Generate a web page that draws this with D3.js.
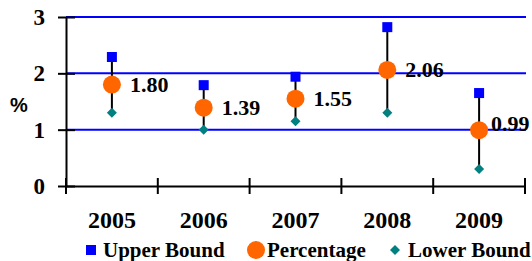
<!DOCTYPE html>
<html>
<head>
<meta charset="utf-8">
<script src="https://cdn.jsdelivr.net/npm/d3@7"></script>
<style>
  body { margin: 0; background: #fff; }
  svg { display: block; }
  .serif { font-family: "Liberation Serif", "Times New Roman", serif; font-weight: bold; }
</style>
</head>
<body>
<svg width="532" height="261"></svg>
<script>
var width = 532;
var height = 261;

var years = ['2005', '2006', '2007', '2008', '2009'];
var upper = [2.29, 1.79, 1.94, 2.82, 1.65];
var percentage = [1.80, 1.39, 1.55, 2.06, 0.99];
var lower = [1.30, 1.00, 1.15, 1.30, 0.30];
var yTicks = [0, 1, 2, 3];

var svg = d3.select('svg');

var x = d3.scaleBand()
   .domain(years)
   .range([66, 525]);

var y = d3.scaleLinear()
   .domain([0, 3])
   .range([186, 17]);

// grid lines
svg.append('g')
   .selectAll('line')
   .data(yTicks.slice(1))
   .enter()
   .append('line')
   .attr('x1', 66)
   .attr('x2', 526)
   .attr('y1', function(d) { return y(d); })
   .attr('y2', function(d) { return y(d); })
   .attr('stroke', '#0000ff')
   .attr('stroke-width', 2);

// y axis
var yAxis = svg.append('g')
   .attr('transform', 'translate(66,0)')
   .call(d3.axisLeft(y).tickValues(yTicks).tickFormat(d3.format('d')).tickSize(8).tickSizeOuter(0));

yAxis.select('.domain').attr('stroke', '#000').attr('stroke-width', 2);
yAxis.selectAll('.tick line').attr('stroke', '#000').attr('stroke-width', 2).attr('x2', 9).attr('x1', -8);
yAxis.selectAll('.tick text')
   .attr('class', 'serif')
   .attr('x', -21)
   .attr('dy', '0.33em')
   .style('font-size', '23px')
   .attr('fill', '#000');

// x axis
var xAxis = svg.append('g')
   .attr('transform', 'translate(0,186)')
   .call(d3.axisBottom(x).tickSize(0).tickSizeOuter(0));

xAxis.select('.domain').attr('stroke', '#000').attr('stroke-width', 2);
xAxis.selectAll('.tick text')
   .attr('class', 'serif')
   .attr('y', 34)
   .attr('dy', '0.33em')
   .style('font-size', '24px')
   .attr('fill', '#000');

svg.append('g')
   .selectAll('line')
   .data(years.concat(['end']))
   .enter()
   .append('line')
   .attr('x1', function(d, i) { return i < years.length ? x(d) : x.range()[1]; })
   .attr('x2', function(d, i) { return i < years.length ? x(d) : x.range()[1]; })
   .attr('y1', 178)
   .attr('y2', 194)
   .attr('stroke', '#000')
   .attr('stroke-width', 2);

svg.append('text')
   .attr('x', 10)
   .attr('y', 112)
   .style('font-family', '"Liberation Sans", Arial, sans-serif')
   .style('font-weight', 'bold')
   .style('font-size', '20px')
   .text('%');

var cx = function(i) { return x(years[i]) + x.bandwidth() / 2; };

// error bars
svg.append('g')
   .selectAll('line')
   .data(years)
   .enter()
   .append('line')
   .attr('x1', function(d, i) { return cx(i); })
   .attr('x2', function(d, i) { return cx(i); })
   .attr('y1', function(d, i) { return y(upper[i]); })
   .attr('y2', function(d, i) { return y(lower[i]); })
   .attr('stroke', '#000')
   .attr('stroke-width', 2);

// upper squares
svg.append('g')
   .selectAll('rect')
   .data(upper)
   .enter()
   .append('rect')
   .attr('x', function(d, i) { return cx(i) - 5; })
   .attr('y', function(d) { return y(d) - 5; })
   .attr('width', 10)
   .attr('height', 10)
   .attr('fill', '#0000ff');

// lower diamonds
svg.append('g')
   .selectAll('path')
   .data(lower)
   .enter()
   .append('path')
   .attr('d', 'M0,-5L5,0L0,5L-5,0Z')
   .attr('transform', function(d, i) { return 'translate(' + cx(i) + ',' + y(d) + ')'; })
   .attr('fill', '#008080');

// percentage circles
svg.append('g')
   .selectAll('circle')
   .data(percentage)
   .enter()
   .append('circle')
   .attr('cx', function(d, i) { return cx(i); })
   .attr('cy', function(d) { return y(d); })
   .attr('r', 9)
   .attr('fill', '#ff6600');

svg.append('g')
   .selectAll('text')
   .data(percentage)
   .enter()
   .append('text')
   .attr('class', 'serif')
   .attr('x', function(d, i) { return cx(i) + (i == years.length - 1 ? 12 : 18); })
   .attr('y', function(d, i) { return y(d) + (i == years.length - 1 ? -6 : 0); })
   .attr('dy', '0.33em')
   .style('font-size', '22px')
   .text(function(d) { return d3.format('.2f')(d); });

// legend
var legend = svg.append('g').attr('transform', 'translate(0,250)');

legend.append('rect')
   .attr('x', 86).attr('y', -5).attr('width', 10).attr('height', 10)
   .attr('fill', '#0000ff');
legend.append('circle')
   .attr('cx', 256).attr('cy', 0).attr('r', 9)
   .attr('fill', '#ff6600');
legend.append('path')
   .attr('d', 'M0,-5L5,0L0,5L-5,0Z')
   .attr('transform', 'translate(395,0)')
   .attr('fill', '#008080');

var legendText = [
   { text: 'Upper Bound', x: 103 },
   { text: 'Percentage', x: 267 },
   { text: 'Lower Bound', x: 408 }
];

legend.selectAll('text')
   .data(legendText)
   .enter()
   .append('text')
   .attr('class', 'serif')
   .attr('x', function(d) { return d.x; })
   .attr('dy', '0.33em')
   .style('font-size', '21px')
   .text(function(d) { return d.text; });
</script>
</body>
</html>
